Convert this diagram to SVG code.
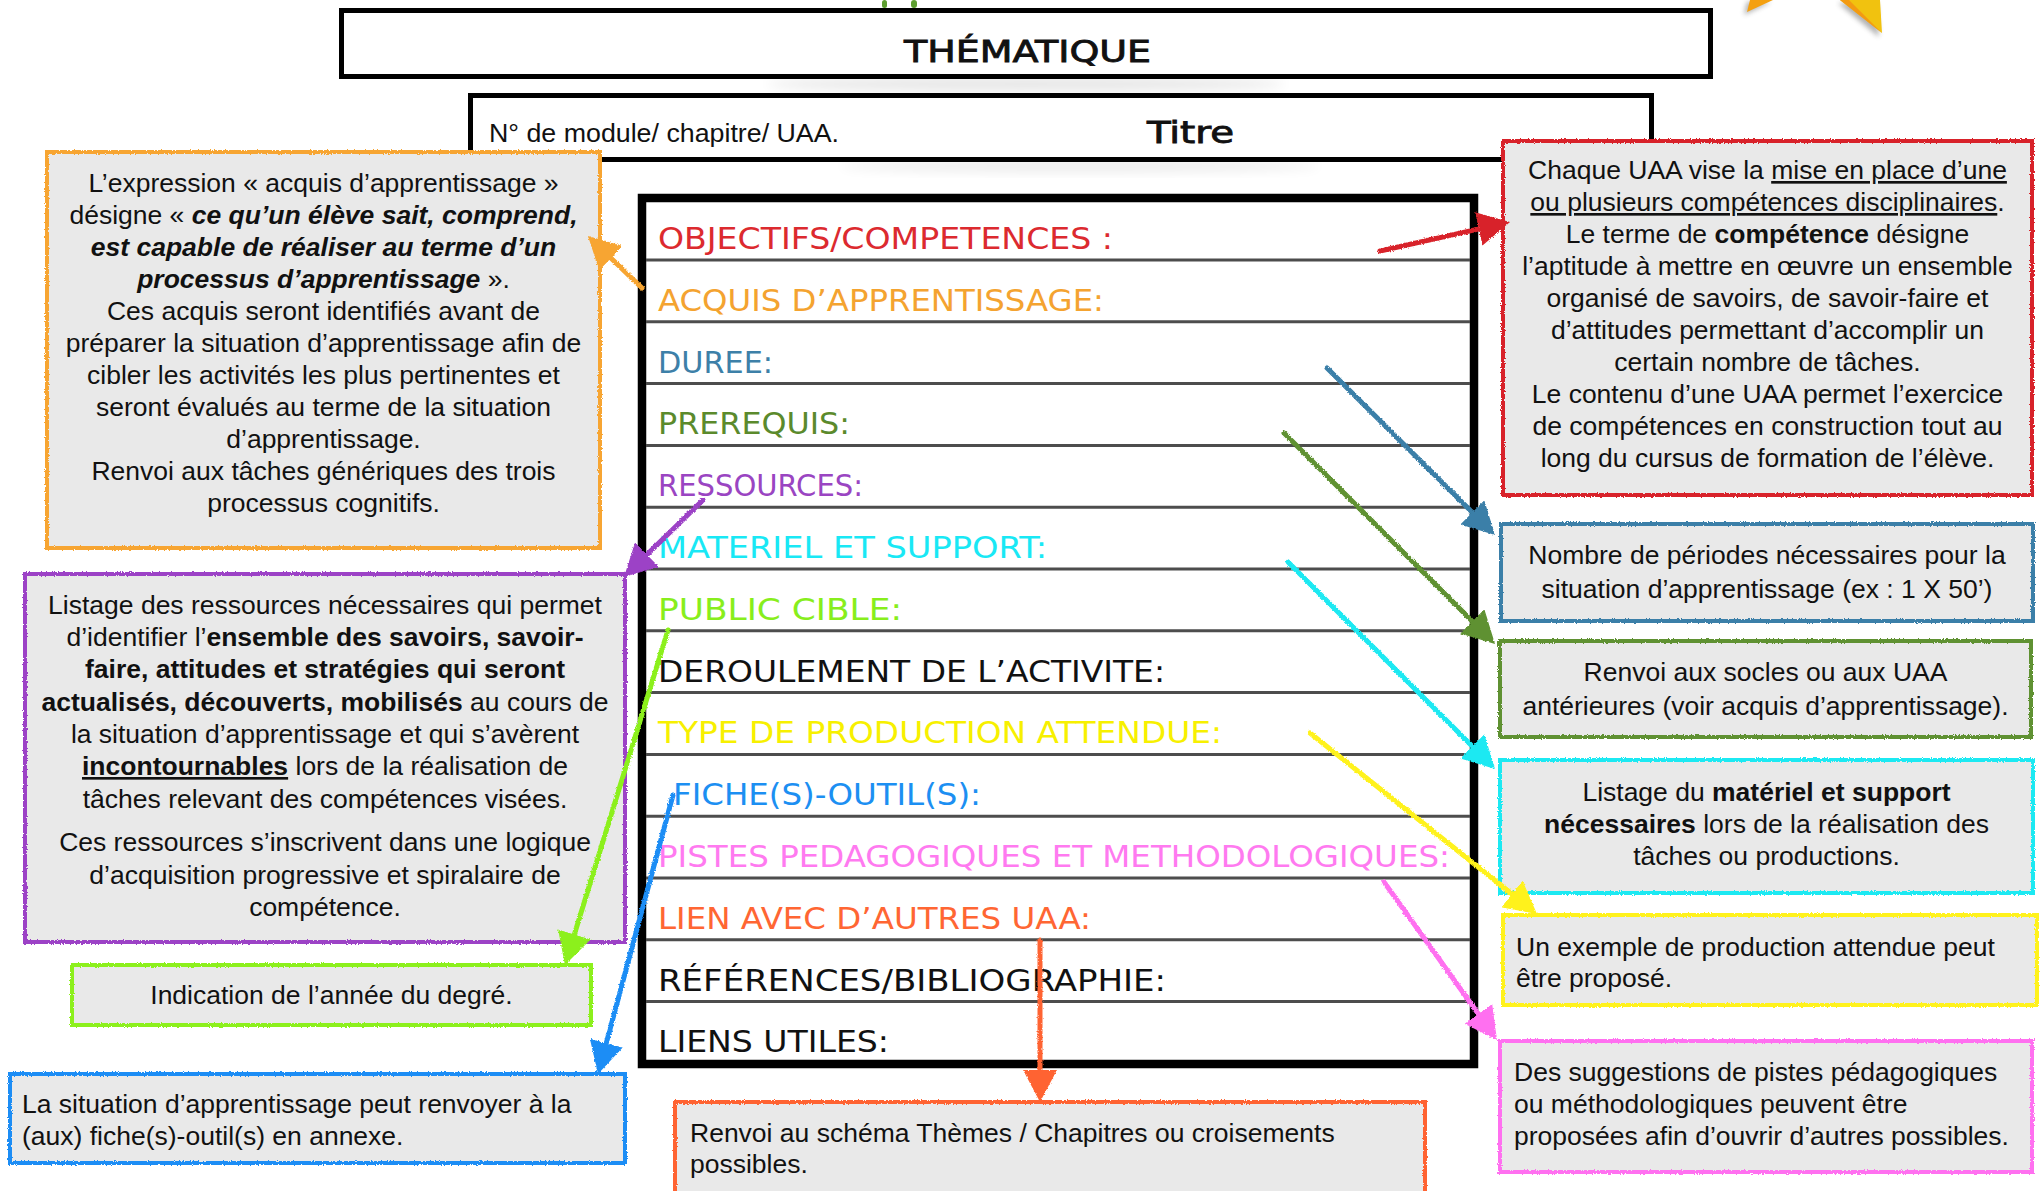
<svg xmlns="http://www.w3.org/2000/svg" width="2042" height="1191" viewBox="0 0 2042 1191">
  <defs>
    <!-- rough crayon edge for borders and connectors -->
    <filter id="crayon" filterUnits="userSpaceOnUse" x="0" y="0" width="2042" height="1191">
      <feTurbulence type="fractalNoise" baseFrequency="0.7" numOctaves="2" seed="3" result="noise"/>
      <feDisplacementMap in="SourceGraphic" in2="noise" scale="3" xChannelSelector="R" yChannelSelector="G"/>
    </filter>
    <filter id="soft" x="-50%" y="-50%" width="200%" height="200%">
      <feGaussianBlur stdDeviation="6"/>
    </filter>
    <filter id="softS" x="-50%" y="-50%" width="200%" height="200%">
      <feGaussianBlur stdDeviation="2.5"/>
    </filter>
    <marker id="h-red" markerUnits="userSpaceOnUse" viewBox="0 0 32 34" refX="20" refY="17" markerWidth="32" markerHeight="34" orient="auto"><path d="M0,0 L32,17 L0,34 Z" fill="#d8232a"/></marker>
    <marker id="h-orange" markerUnits="userSpaceOnUse" viewBox="0 0 32 34" refX="20" refY="17" markerWidth="32" markerHeight="34" orient="auto"><path d="M0,0 L32,17 L0,34 Z" fill="#f7a531"/></marker>
    <marker id="h-purple" markerUnits="userSpaceOnUse" viewBox="0 0 32 34" refX="20" refY="17" markerWidth="32" markerHeight="34" orient="auto"><path d="M0,0 L32,17 L0,34 Z" fill="#9c42c6"/></marker>
    <marker id="h-lime" markerUnits="userSpaceOnUse" viewBox="0 0 32 34" refX="20" refY="17" markerWidth="32" markerHeight="34" orient="auto"><path d="M0,0 L32,17 L0,34 Z" fill="#8cf01c"/></marker>
    <marker id="h-blue" markerUnits="userSpaceOnUse" viewBox="0 0 32 34" refX="20" refY="17" markerWidth="32" markerHeight="34" orient="auto"><path d="M0,0 L32,17 L0,34 Z" fill="#1b8df5"/></marker>
    <marker id="h-steel" markerUnits="userSpaceOnUse" viewBox="0 0 32 34" refX="20" refY="17" markerWidth="32" markerHeight="34" orient="auto"><path d="M0,0 L32,17 L0,34 Z" fill="#3b7fa8"/></marker>
    <marker id="h-olive" markerUnits="userSpaceOnUse" viewBox="0 0 32 34" refX="20" refY="17" markerWidth="32" markerHeight="34" orient="auto"><path d="M0,0 L32,17 L0,34 Z" fill="#5e9130"/></marker>
    <marker id="h-cyan" markerUnits="userSpaceOnUse" viewBox="0 0 32 34" refX="20" refY="17" markerWidth="32" markerHeight="34" orient="auto"><path d="M0,0 L32,17 L0,34 Z" fill="#1ce9f2"/></marker>
    <marker id="h-yellow" markerUnits="userSpaceOnUse" viewBox="0 0 32 34" refX="20" refY="17" markerWidth="32" markerHeight="34" orient="auto"><path d="M0,0 L32,17 L0,34 Z" fill="#fff21a"/></marker>
    <marker id="h-pink" markerUnits="userSpaceOnUse" viewBox="0 0 32 34" refX="20" refY="17" markerWidth="32" markerHeight="34" orient="auto"><path d="M0,0 L32,17 L0,34 Z" fill="#ff6ff0"/></marker>
    <marker id="h-tomato" markerUnits="userSpaceOnUse" viewBox="0 0 32 34" refX="20" refY="17" markerWidth="32" markerHeight="34" orient="auto"><path d="M0,0 L32,17 L0,34 Z" fill="#ff6430"/></marker>
  </defs>
  <style>
    .box { fill: #e9e9e9; stroke-width: 4; filter: url(#crayon); }
    .frame { fill: #ffffff; stroke: #000000; }
    .rule { stroke: #4d4d4d; stroke-width: 3; }
    .t { font-family: "Liberation Sans", Arial, Helvetica, sans-serif; font-size: 26.5px; fill: #111111; }
    .c { text-anchor: middle; }
    .b { font-weight: bold; }
    .bi { font-weight: bold; font-style: italic; }
    .u { text-decoration: underline; }
    .hand { font-family: "DejaVu Sans Condensed", "DejaVu Sans", "Liberation Sans", sans-serif; font-size: 31px; }
    .arrow { fill: none; stroke-width: 5; stroke-linecap: round; }
  </style>

  <rect width="2042" height="1191" fill="#ffffff"/>

  <!-- soft shadows under the title bars -->
  <ellipse cx="1026" cy="84" rx="260" ry="7" fill="#000" opacity="0.10" filter="url(#soft)"/>
  <ellipse cx="1080" cy="166" rx="240" ry="6" fill="#000" opacity="0.08" filter="url(#soft)"/>

  <!-- decorative star corner and green marks at the top edge -->
  <g id="star">
    <polygon points="1744,15 1747,2 1771,2" fill="#555" opacity="0.45" filter="url(#softS)"/>
    <polygon points="1838,3 1879,37 1877,3" fill="#555" opacity="0.45" filter="url(#softS)"/>
    <polygon points="1747,12 1750,0 1773,0" fill="#f4a010"/>
    <polygon points="1840,0 1882,33 1880,0" fill="#f1c20f"/>
    <polygon points="1840,0 1882,33 1849,0" fill="#f39a12"/>
  </g>
  <g id="top-marks" fill="#5d9e2f">
    <rect x="882" y="0" width="5" height="8" rx="2.5"/>
    <rect x="911" y="0" width="6" height="8" rx="3"/>
  </g>

  <!-- title bar -->
  <g id="header">
    <rect class="frame" x="341.5" y="10.5" width="1369" height="66" stroke-width="5"/>
    <text class="hand" x="904" y="62" font-size="40" textLength="247" lengthAdjust="spacingAndGlyphs" fill="#111" stroke="#111" stroke-width="0.8">THÉMATIQUE</text>
  </g>

  <!-- module / title bar -->
  <g id="module">
    <rect class="frame" x="470.5" y="95.5" width="1181" height="64" stroke-width="5"/>
    <text class="t" x="489" y="142" font-size="26" textLength="350" lengthAdjust="spacingAndGlyphs">N° de module/ chapitre/ UAA.</text>
    <text class="hand" x="1147" y="143" font-size="35" textLength="87" lengthAdjust="spacingAndGlyphs" fill="#111" stroke="#111" stroke-width="0.8">Titre</text>
  </g>

  <!-- main template sheet -->
  <g id="sheet">
    <rect class="frame" x="642" y="198" width="832" height="866" stroke-width="8.5"/>
    <g id="rules">
      <line class="rule" x1="646" y1="260" x2="1470" y2="260"/>
      <line class="rule" x1="646" y1="321.8" x2="1470" y2="321.8"/>
      <line class="rule" x1="646" y1="383.6" x2="1470" y2="383.6"/>
      <line class="rule" x1="646" y1="445.4" x2="1470" y2="445.4"/>
      <line class="rule" x1="646" y1="507.2" x2="1470" y2="507.2"/>
      <line class="rule" x1="646" y1="569" x2="1470" y2="569"/>
      <line class="rule" x1="646" y1="630.8" x2="1470" y2="630.8"/>
      <line class="rule" x1="646" y1="692.6" x2="1470" y2="692.6"/>
      <line class="rule" x1="646" y1="754.4" x2="1470" y2="754.4"/>
      <line class="rule" x1="646" y1="816.2" x2="1470" y2="816.2"/>
      <line class="rule" x1="646" y1="878" x2="1470" y2="878"/>
      <line class="rule" x1="646" y1="939.8" x2="1470" y2="939.8"/>
      <line class="rule" x1="646" y1="1001.6" x2="1470" y2="1001.6"/>
    </g>
    <g id="fields" class="hand">
      <text x="658" y="249" textLength="455" lengthAdjust="spacingAndGlyphs" fill="#dc2a2f">OBJECTIFS/COMPETENCES :</text>
      <text x="658" y="310.8" textLength="446" lengthAdjust="spacingAndGlyphs" fill="#f4a330">ACQUIS D’APPRENTISSAGE:</text>
      <text x="658" y="372.6" textLength="115" lengthAdjust="spacingAndGlyphs" fill="#3d80a8">DUREE:</text>
      <text x="658" y="434.4" textLength="192" lengthAdjust="spacingAndGlyphs" fill="#5b8a2c">PREREQUIS:</text>
      <text x="658" y="496.2" textLength="205" lengthAdjust="spacingAndGlyphs" fill="#9a45c2">RESSOURCES:</text>
      <text x="658" y="558" textLength="389" lengthAdjust="spacingAndGlyphs" fill="#19e8f5">MATERIEL ET SUPPORT:</text>
      <text x="658" y="619.8" textLength="244" lengthAdjust="spacingAndGlyphs" fill="#88ee1c">PUBLIC CIBLE:</text>
      <text x="658" y="681.6" textLength="507" lengthAdjust="spacingAndGlyphs" fill="#111111">DEROULEMENT DE L’ACTIVITE:</text>
      <text x="658" y="743.4" textLength="564" lengthAdjust="spacingAndGlyphs" fill="#f7f000">TYPE DE PRODUCTION ATTENDUE:</text>
      <text x="673" y="805.2" textLength="308" lengthAdjust="spacingAndGlyphs" fill="#1c8ff2">FICHE(S)-OUTIL(S):</text>
      <text x="658" y="867" textLength="792" lengthAdjust="spacingAndGlyphs" fill="#ff7af0">PISTES PEDAGOGIQUES ET METHODOLOGIQUES:</text>
      <text x="658" y="928.8" textLength="433" lengthAdjust="spacingAndGlyphs" fill="#ff6633">LIEN AVEC D’AUTRES UAA:</text>
      <text x="658" y="990.6" textLength="508" lengthAdjust="spacingAndGlyphs" fill="#111111">RÉFÉRENCES/BIBLIOGRAPHIE:</text>
      <text x="658" y="1052.4" textLength="231" lengthAdjust="spacingAndGlyphs" fill="#111111">LIENS UTILES:</text>
    </g>
  </g>

  <!-- annotation: learning outcomes -->
  <g id="note-acquis">
    <rect class="box" x="47" y="152" width="553" height="396" stroke="#f7a531"/>
    <text class="t c" x="323.5" y="192">L’expression « acquis d’apprentissage »</text>
    <text class="t c" x="323.5" y="224">désigne « <tspan class="bi">ce qu’un élève sait, comprend,</tspan></text>
    <text class="t c bi" x="323.5" y="256">est capable de réaliser au terme d’un</text>
    <text class="t c" x="323.5" y="288"><tspan class="bi">processus d’apprentissage</tspan> ».</text>
    <text class="t c" x="323.5" y="320">Ces acquis seront identifiés avant de</text>
    <text class="t c" x="323.5" y="352">préparer la situation d’apprentissage afin de</text>
    <text class="t c" x="323.5" y="384">cibler les activités les plus pertinentes et</text>
    <text class="t c" x="323.5" y="416">seront évalués au terme de la situation</text>
    <text class="t c" x="323.5" y="448">d’apprentissage.</text>
    <text class="t c" x="323.5" y="480">Renvoi aux tâches génériques des trois</text>
    <text class="t c" x="323.5" y="512">processus cognitifs.</text>
  </g>

  <!-- annotation: resources -->
  <g id="note-ressources">
    <rect class="box" x="25" y="574" width="600" height="368" stroke="#9c42c6"/>
    <text class="t c" x="325" y="614">Listage des ressources nécessaires qui permet</text>
    <text class="t c" x="325" y="646">d’identifier l’<tspan class="b">ensemble des savoirs, savoir-</tspan></text>
    <text class="t c b" x="325" y="678">faire, attitudes et stratégies qui seront</text>
    <text class="t c" x="325" y="711"><tspan class="b">actualisés, découverts, mobilisés</tspan> au cours de</text>
    <text class="t c" x="325" y="743">la situation d’apprentissage et qui s’avèrent</text>
    <text class="t c" x="325" y="775"><tspan class="b u">incontournables</tspan> lors de la réalisation de</text>
    <text class="t c" x="325" y="808">tâches relevant des compétences visées.</text>
    <text class="t c" x="325" y="851">Ces ressources s’inscrivent dans une logique</text>
    <text class="t c" x="325" y="884">d’acquisition progressive et spiralaire de</text>
    <text class="t c" x="325" y="916">compétence.</text>
  </g>

  <!-- annotation: target audience -->
  <g id="note-public">
    <rect class="box" x="72" y="965" width="519" height="60" stroke="#8cf01c"/>
    <text class="t c" x="331.5" y="1004">Indication de l’année du degré.</text>
  </g>

  <!-- annotation: tool sheets -->
  <g id="note-fiche">
    <rect class="box" x="10" y="1074" width="615" height="89" stroke="#1b8df5"/>
    <text class="t" x="22" y="1113">La situation d’apprentissage peut renvoyer à la</text>
    <text class="t" x="22" y="1145">(aux) fiche(s)-outil(s) en annexe.</text>
  </g>

  <!-- annotation: competences -->
  <g id="note-competences">
    <rect class="box" x="1503" y="141" width="529" height="354" stroke="#d8232a"/>
    <text class="t c" x="1767.5" y="179">Chaque UAA vise la <tspan class="u">mise en place d’une</tspan></text>
    <text class="t c" x="1767.5" y="211"><tspan class="u">ou plusieurs compétences disciplinaires</tspan>.</text>
    <text class="t c" x="1767.5" y="243">Le terme de <tspan class="b">compétence</tspan> désigne</text>
    <text class="t c" x="1767.5" y="275">l’aptitude à mettre en œuvre un ensemble</text>
    <text class="t c" x="1767.5" y="307">organisé de savoirs, de savoir-faire et</text>
    <text class="t c" x="1767.5" y="339">d’attitudes permettant d’accomplir un</text>
    <text class="t c" x="1767.5" y="371">certain nombre de tâches.</text>
    <text class="t c" x="1767.5" y="403">Le contenu d’une UAA permet l’exercice</text>
    <text class="t c" x="1767.5" y="435">de compétences en construction tout au</text>
    <text class="t c" x="1767.5" y="467">long du cursus de formation de l’élève.</text>
  </g>

  <!-- annotation: duration -->
  <g id="note-duree">
    <rect class="box" x="1501" y="524" width="532" height="97" stroke="#3b7fa8"/>
    <text class="t c" x="1767" y="564">Nombre de périodes nécessaires pour la</text>
    <text class="t c" x="1767" y="598">situation d’apprentissage (ex : 1 X 50’)</text>
  </g>

  <!-- annotation: prerequisites -->
  <g id="note-prerequis">
    <rect class="box" x="1500" y="641" width="531" height="96" stroke="#5e9130"/>
    <text class="t c" x="1765.5" y="681">Renvoi aux socles ou aux UAA</text>
    <text class="t c" x="1765.5" y="715">antérieures (voir acquis d’apprentissage).</text>
  </g>

  <!-- annotation: material -->
  <g id="note-materiel">
    <rect class="box" x="1500" y="760" width="533" height="133" stroke="#1ce9f2"/>
    <text class="t c" x="1766.5" y="801">Listage du <tspan class="b">matériel et support</tspan></text>
    <text class="t c" x="1766.5" y="833"><tspan class="b">nécessaires</tspan> lors de la réalisation des</text>
    <text class="t c" x="1766.5" y="865">tâches ou productions.</text>
  </g>

  <!-- annotation: expected production -->
  <g id="note-production">
    <rect class="box" x="1503" y="915" width="534" height="90" stroke="#fff21a"/>
    <text class="t" x="1516" y="956">Un exemple de production attendue peut</text>
    <text class="t" x="1516" y="987">être proposé.</text>
  </g>

  <!-- annotation: teaching tracks -->
  <g id="note-pistes">
    <rect class="box" x="1500" y="1041" width="532" height="131" stroke="#ff6ff0"/>
    <text class="t" x="1514" y="1081">Des suggestions de pistes pédagogiques</text>
    <text class="t" x="1514" y="1113">ou méthodologiques peuvent être</text>
    <text class="t" x="1514" y="1145">proposées afin d’ouvrir d’autres possibles.</text>
  </g>

  <!-- annotation: links to other units -->
  <g id="note-liens">
    <rect class="box" x="675" y="1102" width="750" height="120" stroke="#ff6430"/>
    <text class="t" x="690" y="1142">Renvoi au schéma Thèmes / Chapitres ou croisements</text>
    <text class="t" x="690" y="1173">possibles.</text>
  </g>

  <!-- connectors from sheet fields to their notes -->
  <g id="connectors" filter="url(#crayon)">
    <path class="arrow" stroke="#d8232a" d="M1380,251 L1498.3,224.6" marker-end="url(#h-red)"/>
    <path class="arrow" stroke="#f7a531" d="M642,288 L596.6,244.3" marker-end="url(#h-orange)"/>
    <path class="arrow" stroke="#9c42c6" d="M703,500 L632.6,568.6" marker-end="url(#h-purple)"/>
    <path class="arrow" stroke="#8cf01c" d="M668,630 L568.5,953.5" marker-end="url(#h-lime)"/>
    <path class="arrow" stroke="#1b8df5" d="M673,795 L601.1,1062.4" marker-end="url(#h-blue)"/>
    <path class="arrow" stroke="#3b7fa8" d="M1327,368 L1486.5,526.5" marker-end="url(#h-steel)"/>
    <path class="arrow" stroke="#5e9130" d="M1284,433 L1486.5,635.5" marker-end="url(#h-olive)"/>
    <path class="arrow" stroke="#1ce9f2" d="M1288,562 L1486.5,760.5" marker-end="url(#h-cyan)"/>
    <path class="arrow" stroke="#fff21a" d="M1310,733 L1527.6,906.5" marker-end="url(#h-yellow)"/>
    <path class="arrow" stroke="#ff6ff0" d="M1384,882 L1490,1030.2" marker-end="url(#h-pink)"/>
    <path class="arrow" stroke="#ff6430" d="M1040,940 L1040,1090" marker-end="url(#h-tomato)"/>
  </g>
</svg>
